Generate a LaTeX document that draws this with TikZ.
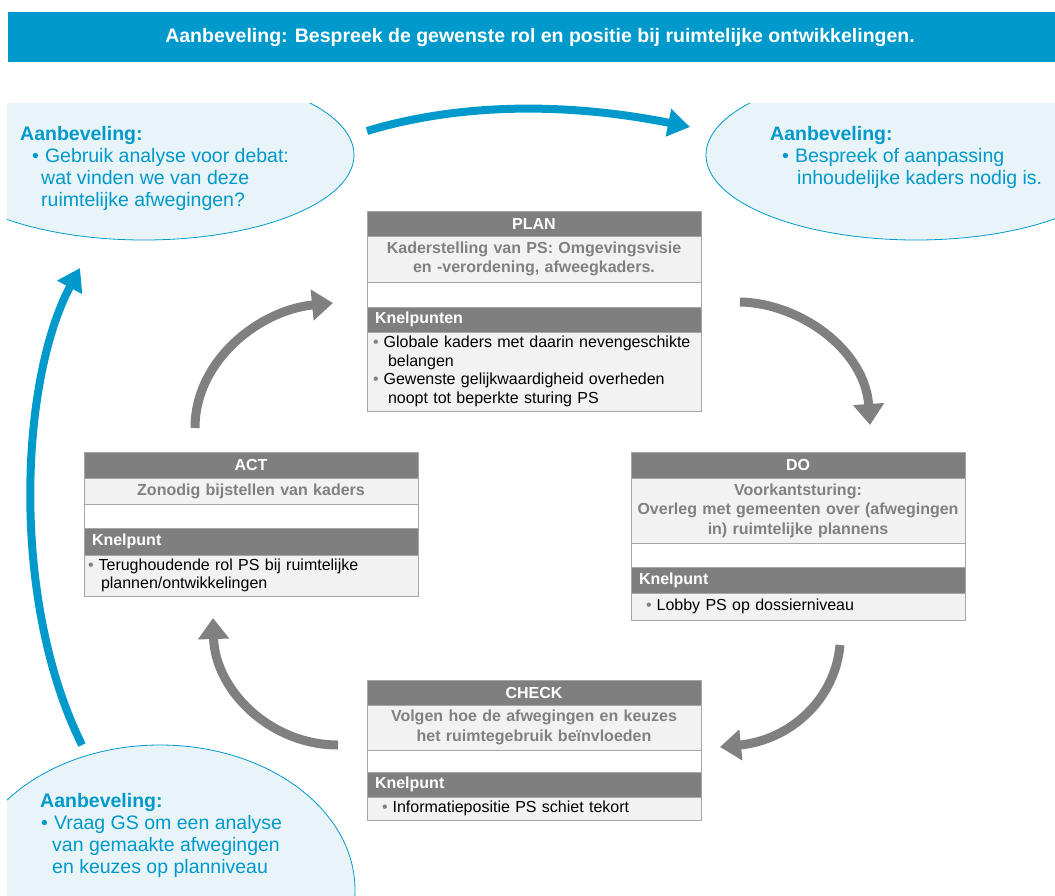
\documentclass[tikz,border=0pt]{standalone}
\usepackage{fontspec}
\setmainfont{Liberation Sans}
\usetikzlibrary{positioning,arrows.meta}
\definecolor{aanblauw}{RGB}{0,153,204}
\definecolor{wolkblauw}{RGB}{232,244,248}
\definecolor{kopgrijs}{RGB}{127,127,127}
\definecolor{vakgrijs}{RGB}{242,242,242}
\definecolor{randgrijs}{RGB}{166,166,166}
\definecolor{tekstgrijs}{RGB}{128,128,128}
\newcommand{\punt}{{\color{tekstgrijs}\textbullet}\hspace{5pt}}
\newcommand{\bpunt}{\textbullet\hspace{6pt}}
\tikzset{
	fasekop/.style={draw=randgrijs, fill=kopgrijs, text=white, font=\bfseries\fontsize{16}{19}\selectfont, minimum width=334pt, inner sep=0pt, outer sep=0pt},
	knelkop/.style={fasekop, text width=318pt, align=left},
	fasetekst/.style={draw=randgrijs, fill=vakgrijs, text=tekstgrijs, font=\bfseries\fontsize{16}{19.5}\selectfont, minimum width=334pt, text width=328pt, align=center, inner sep=0pt, outer sep=0pt},
	leeg/.style={draw=randgrijs, fill=white, minimum width=334pt, inner sep=0pt, outer sep=0pt},
	knellijst/.style={draw=randgrijs, fill=vakgrijs, text=black, font=\fontsize{16}{18.7}\selectfont, minimum width=334pt, text width=326pt, align=left, inner sep=0pt, outer sep=0pt},
	grijspijl/.style={draw=tekstgrijs, line width=9pt, -{Triangle[width=30pt,length=21pt]}},
	blauwpijl/.style={draw=aanblauw, line width=8pt, -{Triangle[width=27pt,length=22pt]}},
	wolk/.style={draw=aanblauw, fill=wolkblauw, line width=0.8pt},
	wolktekst/.style={text=aanblauw, font=\fontsize{19.5}{22}\selectfont, align=left, anchor=north west, inner sep=0pt},
}

\begin{document}
\begin{tikzpicture}[x=1pt, y=-1pt]
			%%%%% START %%%%%
			\useasboundingbox (0, 0) rectangle (1055, 895);
			
			% banner
			\fill[aanblauw] (8, 12) rectangle (1055, 62);
			\node[text=white, font=\bfseries\fontsize{19.5}{22}\selectfont] (titel) at (540, 37) {Aanbeveling: Bespreek de gewenste rol en positie bij ruimtelijke ontwikkelingen.};
			
			% wolken
			\begin{scope}
				\clip (7, 103) rectangle (1055, 895);
				\draw[wolk] (144, 155) ellipse (210 and 85);
				\draw[wolk] (916, 155) ellipse (210 and 85);
				\draw[wolk] (160, 890) ellipse (195 and 145);
			\end{scope}
			
			\node[wolktekst] (wolkA) at (20, 126) {\textbf{Aanbeveling:}\\
				\hspace*{12pt}\bpunt Gebruik analyse voor debat:\\
				\hspace*{21pt}wat vinden we van deze\\
				\hspace*{21pt}ruimtelijke afwegingen?};
			\node[wolktekst] (wolkB) at (770, 126) {\textbf{Aanbeveling:}\\
				\hspace*{12pt}\bpunt Bespreek of aanpassing\\
				\hspace*{27pt}inhoudelijke kaders nodig is.};
			\node[wolktekst] (wolkC) at (40, 793) {\textbf{Aanbeveling:}\\
				\hspace*{1pt}\bpunt Vraag GS om een analyse\\
				\hspace*{12pt}van gemaakte afwegingen\\
				\hspace*{12pt}en keuzes op planniveau};
			
			% PLAN
			\node[fasekop, anchor=north west, minimum height=25pt] (plan) at (367, 211) {PLAN};
			\node[fasetekst, below=0pt of plan, minimum height=46pt] (plantekst) {Kaderstelling van PS: Omgevingsvisie\\ en -verordening, afweegkaders.};
			\node[leeg, below=0pt of plantekst, minimum height=25pt] (planleeg) {};
			\node[knelkop, below=0pt of planleeg, minimum height=25pt] (plankop) {Knelpunten};
			\node[knellijst, below=0pt of plankop, minimum height=79pt] (planlijst) {\hspace*{2pt}\punt Globale kaders met daarin nevengeschikte\\
				\hspace*{17pt}belangen\\
				\hspace*{2pt}\punt Gewenste gelijkwaardigheid overheden\\
				\hspace*{17pt}noopt tot beperkte sturing PS};
			
			% DO
			\node[fasekop, anchor=north west, minimum height=26pt] (do) at (631, 452) {DO};
			\node[fasetekst, below=0pt of do, minimum height=65pt] (dotekst) {Voorkantsturing:\\Overleg met gemeenten over (afwegingen\\in) ruimtelijke plannens};
			\node[leeg, below=0pt of dotekst, minimum height=24pt] (doleeg) {};
			\node[knelkop, below=0pt of doleeg, minimum height=26pt] (dokop) {Knelpunt};
			\node[knellijst, below=0pt of dokop, minimum height=27pt] (dolijst) {\hspace*{11pt}\punt Lobby PS op dossierniveau};
			
			% CHECK
			\node[fasekop, anchor=north west, minimum height=25pt] (check) at (367, 680) {CHECK};
			\node[fasetekst, below=0pt of check, minimum height=45pt] (checktekst) {Volgen hoe de afwegingen en keuzes\\het ruimtegebruik beïnvloeden};
			\node[leeg, below=0pt of checktekst, minimum height=22pt] (checkleeg) {};
			\node[knelkop, below=0pt of checkleeg, minimum height=25pt] (checkkop) {Knelpunt};
			\node[knellijst, below=0pt of checkkop, minimum height=23pt] (checklijst) {\hspace*{11pt}\punt Informatiepositie PS schiet tekort};
			
			% ACT
			\node[fasekop, anchor=north west, minimum height=26pt] (act) at (84, 452) {ACT};
			\node[fasetekst, below=0pt of act, minimum height=26pt] (acttekst) {Zonodig bijstellen van kaders};
			\node[leeg, below=0pt of acttekst, minimum height=24pt] (actleeg) {};
			\node[knelkop, below=0pt of actleeg, minimum height=27pt] (actkop) {Knelpunt};
			\node[knellijst, below=0pt of actkop, minimum height=41pt] (actlijst) {\punt Terughoudende rol PS bij ruimtelijke\\
				\hspace*{13pt}plannen/ontwikkelingen};
			
			% pijlen
			\coordinate (p1a) at (195, 428);
			\coordinate (p1b) at (333, 303);
			\coordinate (p2a) at (740, 302);
			\coordinate (p2b) at (870, 425);
			\coordinate (p3a) at (840, 645);
			\coordinate (p3b) at (720, 747);
			\coordinate (p4a) at (338, 745);
			\coordinate (p4b) at (213, 618);
			\draw[grijspijl] (p1a) .. controls (195, 360) and (260, 310) .. (p1b);
			\draw[grijspijl] (p2a) .. controls (800, 303) and (865, 350) .. (p2b);
			\draw[grijspijl] (p3a) .. controls (835, 700) and (790, 740) .. (p3b);
			\draw[grijspijl] (p4a) .. controls (270, 745) and (215, 690) .. (p4b);
			
			\coordinate (b1a) at (367, 131);
			\coordinate (b1b) at (690, 127);
			\coordinate (b2a) at (82, 745);
			\coordinate (b2b) at (80, 268);
			\draw[blauwpijl] (b1a) .. controls (470, 100) and (580, 105) .. (b1b);
			\draw[blauwpijl] (b2a) .. controls (10, 600) and (20, 380) .. (b2b);
			
			%%%%% END %%%%%
\end{tikzpicture}
\end{document}
